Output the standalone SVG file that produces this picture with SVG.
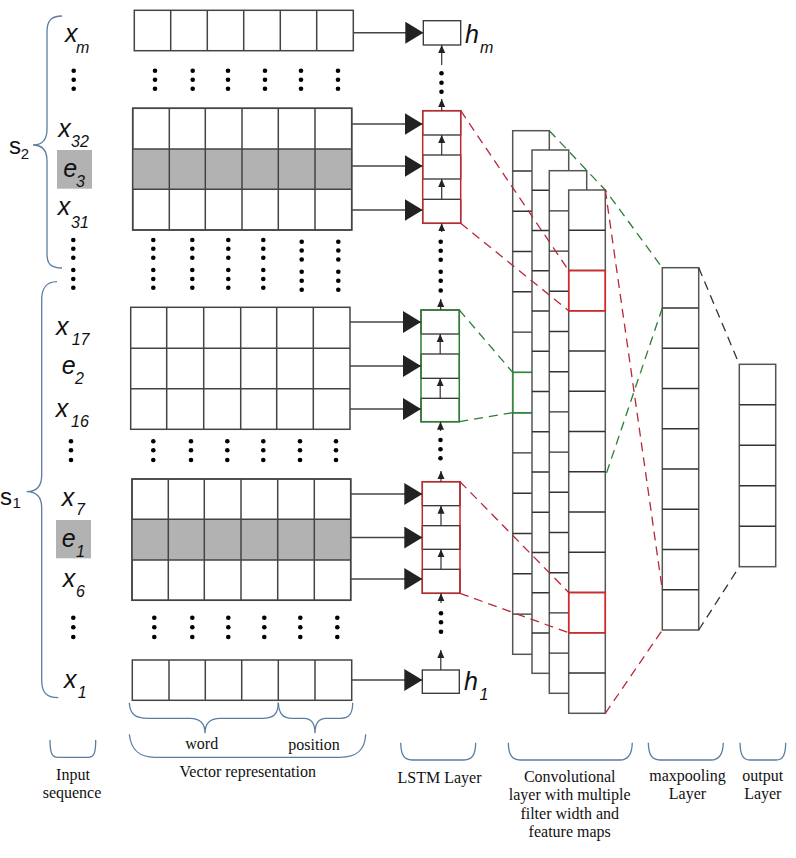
<svg xmlns="http://www.w3.org/2000/svg" width="796" height="858" viewBox="0 0 796 858">
<style>
.bg{fill:#fff}
.cell{fill:#fff;stroke:#444;stroke-width:1.5}
.grayrow{fill:#b2b2b2;stroke:none}
.grid{fill:none;stroke:#444;stroke-width:1.5}
.dot{fill:#000}
.conn{fill:none;stroke:#444;stroke-width:1.5;marker-end:url(#big)}
.up{fill:none;stroke:#333;stroke-width:1.2;marker-end:url(#sm)}
.lcell{fill:#fff;stroke:#333;stroke-width:1.3}
.redbox{fill:none;stroke:#c0282d;stroke-width:1.5}
.greenbox{fill:none;stroke:#2e7d32;stroke-width:1.5}
.map{fill:#fff;stroke:#555;stroke-width:1.5}
.mline{fill:none;stroke:#333;stroke-width:1.4}
.redcell{fill:none;stroke:#e02424;stroke-width:1.5}
.greencell{fill:none;stroke:#2e8b3a;stroke-width:1.5}
.dr{fill:none;stroke:#b8283a;stroke-width:1.3;stroke-dasharray:9 6}
.dg{fill:none;stroke:#2e7d32;stroke-width:1.3;stroke-dasharray:9 6}
.dk{fill:none;stroke:#333;stroke-width:1.3;stroke-dasharray:9 6}
.brace{fill:none;stroke:#5b7ea0;stroke-width:1.3}
.lbl{font-family:"Liberation Serif","Times New Roman",serif;font-size:16px;fill:#111;text-anchor:middle}
.it{font-family:"Liberation Sans",Arial,sans-serif;font-style:italic;fill:#111;font-size:25px}
.sub{font-family:"Liberation Sans",Arial,sans-serif;font-style:italic;fill:#111;font-size:16px}
.s{font-family:"Liberation Sans",Arial,sans-serif;fill:#111;font-size:24px}
.ssub{font-family:"Liberation Sans",Arial,sans-serif;fill:#111;font-size:15px}
.hl{font-family:"Liberation Sans",Arial,sans-serif;font-style:italic;fill:#111;font-size:25px}
.egray{fill:#b2b2b2}
</style>
<defs>
<marker id="big" markerUnits="userSpaceOnUse" viewBox="0 0 18 22" markerWidth="18" markerHeight="22" refX="18" refY="11" orient="auto"><path d="M0,0 L18,11 L0,22 z" fill="#222"/></marker>
<marker id="sm" markerUnits="userSpaceOnUse" viewBox="0 0 8 8" markerWidth="8" markerHeight="8" refX="8" refY="4" orient="auto"><path d="M0,0.5 L8,4 L0,7.5 z" fill="#222"/></marker>
</defs>
<rect class="bg" x="0" y="0" width="796" height="858"/>

<!-- Input sequence labels -->
<g id="input-labels">
<text class="it" x="65" y="41.7">x</text><text class="sub" x="76" y="53.3">m</text>
<circle class="dot" cx="73.7" cy="70.7" r="2.3"/><circle class="dot" cx="73.7" cy="79.7" r="2.3"/><circle class="dot" cx="73.7" cy="88.7" r="2.3"/>
<text class="it" x="58.3" y="136.7">x</text><text class="sub" x="71" y="146.7">32</text>
<rect class="egray" x="57" y="150" width="35" height="38.7"/>
<text class="it" x="63.3" y="176.7">e</text><text class="sub" x="76" y="186.7">3</text>
<text class="it" x="57.7" y="215">x</text><text class="sub" x="71" y="227.7">31</text>
<circle class="dot" cx="73.3" cy="240" r="2.3"/><circle class="dot" cx="73.3" cy="248.7" r="2.3"/><circle class="dot" cx="73.3" cy="257.7" r="2.3"/>
<circle class="dot" cx="73.3" cy="270" r="2.3"/><circle class="dot" cx="73.3" cy="279" r="2.3"/><circle class="dot" cx="73.3" cy="287.7" r="2.3"/>
<text class="it" x="56" y="335">x</text><text class="sub" x="71.7" y="345">17</text>
<text class="it" x="61.7" y="374.3">e</text><text class="sub" x="75" y="384.3">2</text>
<text class="it" x="55.7" y="416.7">x</text><text class="sub" x="71" y="426.7">16</text>
<circle class="dot" cx="71" cy="441.3" r="2.3"/><circle class="dot" cx="71" cy="450.3" r="2.3"/><circle class="dot" cx="71" cy="460" r="2.3"/>
<text class="it" x="61.7" y="506">x</text><text class="sub" x="76" y="515">7</text>
<rect class="egray" x="56" y="520" width="35" height="38.3"/>
<text class="it" x="61.7" y="546.7">e</text><text class="sub" x="76" y="556.7">1</text>
<text class="it" x="62.7" y="586.7">x</text><text class="sub" x="76" y="597.3">6</text>
<circle class="dot" cx="73.3" cy="617.7" r="2.3"/><circle class="dot" cx="73.3" cy="627.3" r="2.3"/><circle class="dot" cx="73.3" cy="637" r="2.3"/>
<text class="it" x="64" y="688.3">x</text><text class="sub" x="77.7" y="698.3">1</text>
</g>

<g id="sentence-braces">
<path class="brace" d="M62,16 C51,16 47,21 47,32 L47,129 C47,140 42,145 33,145 C42,145 47,150 47,161 L47,254 C47,264 51,268 62,268"/>
<text class="s" x="9" y="154">s</text><text class="ssub" x="20.7" y="159.3">2</text>
<path class="brace" d="M57,281.7 C46,282 41.7,288 41.7,300 L41.7,475 C41.7,486 37,491.7 26.7,491.7 C37,491.7 41.7,497 41.7,508 L41.7,680 C41.7,692 46,697.7 58.3,697.7"/>
<text class="s" x="0" y="505">s</text><text class="ssub" x="12.5" y="508.3">1</text>
</g>

<!-- Vector representation -->
<g id="vec-xm">
<rect class="cell" x="134.3" y="10.3" width="219" height="40.4"/>
<path class="grid" d="M170.7,10.3V50.7M207.3,10.3V50.7M243.7,10.3V50.7M280.3,10.3V50.7M316.7,10.3V50.7"/>
</g>
<g id="vec-dots-1">
<circle class="dot" cx="155" cy="70.7" r="2.3"/><circle class="dot" cx="155" cy="79.7" r="2.3"/><circle class="dot" cx="155" cy="88.7" r="2.3"/>
<circle class="dot" cx="192.7" cy="70.7" r="2.3"/><circle class="dot" cx="192.7" cy="79.7" r="2.3"/><circle class="dot" cx="192.7" cy="88.7" r="2.3"/>
<circle class="dot" cx="228" cy="70.7" r="2.3"/><circle class="dot" cx="228" cy="79.7" r="2.3"/><circle class="dot" cx="228" cy="88.7" r="2.3"/>
<circle class="dot" cx="265" cy="70.7" r="2.3"/><circle class="dot" cx="265" cy="79.7" r="2.3"/><circle class="dot" cx="265" cy="88.7" r="2.3"/>
<circle class="dot" cx="301" cy="70.7" r="2.3"/><circle class="dot" cx="301" cy="79.7" r="2.3"/><circle class="dot" cx="301" cy="88.7" r="2.3"/>
<circle class="dot" cx="338" cy="70.7" r="2.3"/><circle class="dot" cx="338" cy="79.7" r="2.3"/><circle class="dot" cx="338" cy="88.7" r="2.3"/>
</g>
<g id="vec-x32-e3-x31">
<rect class="cell" x="132.7" y="108.3" width="219" height="121.7"/>
<rect class="grayrow" x="132.7" y="149" width="219" height="40.3"/>
<path class="grid" d="M132.7,108.3H351.7V230H132.7Z M132.7,149H351.7M132.7,189.3H351.7 M169.3,108.3V230M205.3,108.3V230M242,108.3V230M278.3,108.3V230M315,108.3V230"/>
</g>
<g id="vec-dots-2">
<circle class="dot" cx="153.3" cy="240" r="2.3"/><circle class="dot" cx="153.3" cy="248.7" r="2.3"/><circle class="dot" cx="153.3" cy="257.7" r="2.3"/><circle class="dot" cx="153.3" cy="270" r="2.3"/><circle class="dot" cx="153.3" cy="279" r="2.3"/><circle class="dot" cx="153.3" cy="287.7" r="2.3"/>
<circle class="dot" cx="192.3" cy="240" r="2.3"/><circle class="dot" cx="192.3" cy="248.7" r="2.3"/><circle class="dot" cx="192.3" cy="257.7" r="2.3"/><circle class="dot" cx="192.3" cy="270" r="2.3"/><circle class="dot" cx="192.3" cy="279" r="2.3"/><circle class="dot" cx="192.3" cy="287.7" r="2.3"/>
<circle class="dot" cx="228.3" cy="240" r="2.3"/><circle class="dot" cx="228.3" cy="248.7" r="2.3"/><circle class="dot" cx="228.3" cy="257.7" r="2.3"/><circle class="dot" cx="228.3" cy="270" r="2.3"/><circle class="dot" cx="228.3" cy="279" r="2.3"/><circle class="dot" cx="228.3" cy="287.7" r="2.3"/>
<circle class="dot" cx="263.3" cy="240" r="2.3"/><circle class="dot" cx="263.3" cy="248.7" r="2.3"/><circle class="dot" cx="263.3" cy="257.7" r="2.3"/><circle class="dot" cx="263.3" cy="270" r="2.3"/><circle class="dot" cx="263.3" cy="279" r="2.3"/><circle class="dot" cx="263.3" cy="287.7" r="2.3"/>
<circle class="dot" cx="301.7" cy="241.7" r="2.3"/><circle class="dot" cx="301.7" cy="250.5" r="2.3"/><circle class="dot" cx="301.7" cy="259.5" r="2.3"/><circle class="dot" cx="301.7" cy="271.7" r="2.3"/><circle class="dot" cx="301.7" cy="280.7" r="2.3"/><circle class="dot" cx="301.7" cy="289.7" r="2.3"/>
<circle class="dot" cx="338.3" cy="241.7" r="2.3"/><circle class="dot" cx="338.3" cy="250.5" r="2.3"/><circle class="dot" cx="338.3" cy="259.5" r="2.3"/><circle class="dot" cx="338.3" cy="271.7" r="2.3"/><circle class="dot" cx="338.3" cy="280.7" r="2.3"/><circle class="dot" cx="338.3" cy="289.7" r="2.3"/>
</g>
<g id="vec-x17-e2-x16">
<rect class="cell" x="130.7" y="307.3" width="219.3" height="122"/>
<path class="grid" d="M130.7,348.3H350M130.7,388.7H350 M166.7,307.3V429.3M203.7,307.3V429.3M240.7,307.3V429.3M276.7,307.3V429.3M313.3,307.3V429.3"/>
</g>
<g id="vec-dots-3">
<circle class="dot" cx="153.3" cy="441.3" r="2.3"/><circle class="dot" cx="153.3" cy="450.3" r="2.3"/><circle class="dot" cx="153.3" cy="460" r="2.3"/>
<circle class="dot" cx="191" cy="441.3" r="2.3"/><circle class="dot" cx="191" cy="450.3" r="2.3"/><circle class="dot" cx="191" cy="460" r="2.3"/>
<circle class="dot" cx="227.3" cy="441.3" r="2.3"/><circle class="dot" cx="227.3" cy="450.3" r="2.3"/><circle class="dot" cx="227.3" cy="460" r="2.3"/>
<circle class="dot" cx="263.3" cy="441.3" r="2.3"/><circle class="dot" cx="263.3" cy="450.3" r="2.3"/><circle class="dot" cx="263.3" cy="460" r="2.3"/>
<circle class="dot" cx="300" cy="441.3" r="2.3"/><circle class="dot" cx="300" cy="450.3" r="2.3"/><circle class="dot" cx="300" cy="460" r="2.3"/>
<circle class="dot" cx="336" cy="441.3" r="2.3"/><circle class="dot" cx="336" cy="450.3" r="2.3"/><circle class="dot" cx="336" cy="460" r="2.3"/>
</g>
<g id="vec-x7-e1-x6">
<rect class="cell" x="132" y="479" width="218.7" height="121.3"/>
<rect class="grayrow" x="132" y="519.3" width="218.7" height="40.7"/>
<path class="grid" d="M132,479H350.7V600.3H132Z M132,519.3H350.7M132,560H350.7 M168.3,479V600.3M204.3,479V600.3M241,479V600.3M277.7,479V600.3M314.3,479V600.3"/>
</g>
<g id="vec-dots-4">
<circle class="dot" cx="154.3" cy="617.7" r="2.3"/><circle class="dot" cx="154.3" cy="627.3" r="2.3"/><circle class="dot" cx="154.3" cy="637" r="2.3"/>
<circle class="dot" cx="192.3" cy="617.7" r="2.3"/><circle class="dot" cx="192.3" cy="627.3" r="2.3"/><circle class="dot" cx="192.3" cy="637" r="2.3"/>
<circle class="dot" cx="228.3" cy="617.7" r="2.3"/><circle class="dot" cx="228.3" cy="627.3" r="2.3"/><circle class="dot" cx="228.3" cy="637" r="2.3"/>
<circle class="dot" cx="264.3" cy="617.7" r="2.3"/><circle class="dot" cx="264.3" cy="627.3" r="2.3"/><circle class="dot" cx="264.3" cy="637" r="2.3"/>
<circle class="dot" cx="300.3" cy="617.7" r="2.3"/><circle class="dot" cx="300.3" cy="627.3" r="2.3"/><circle class="dot" cx="300.3" cy="637" r="2.3"/>
<circle class="dot" cx="337.3" cy="617.7" r="2.3"/><circle class="dot" cx="337.3" cy="627.3" r="2.3"/><circle class="dot" cx="337.3" cy="637" r="2.3"/>
</g>
<g id="vec-x1">
<rect class="cell" x="132.3" y="660" width="219.4" height="40.3"/>
<path class="grid" d="M169,660V700.3M205.3,660V700.3M241.7,660V700.3M278.3,660V700.3M315,660V700.3"/>
</g>

<!-- LSTM layer -->
<g id="lstm-hm">
<rect class="lcell" x="423.3" y="20.7" width="37.4" height="24.3"/>
<text class="hl" x="465" y="43.3">h</text><text class="sub" x="480" y="53.3">m</text>
</g>
<g id="lstm-red-1">
<rect class="lcell" x="422.7" y="110.7" width="38" height="24.3"/>
<rect class="lcell" x="422.7" y="155" width="38" height="24"/>
<rect class="lcell" x="422.7" y="199.3" width="38" height="24"/>
<rect class="redbox" x="422.7" y="110.7" width="38" height="112.6"/>
</g>
<g id="lstm-green">
<rect class="lcell" x="421" y="310" width="38.3" height="24"/>
<rect class="lcell" x="421" y="354" width="38.3" height="24.3"/>
<rect class="lcell" x="421" y="398.3" width="38.3" height="23.4"/>
<rect class="greenbox" x="421" y="310" width="38.3" height="111.7"/>
</g>
<g id="lstm-red-2">
<rect class="lcell" x="422.3" y="481.7" width="37.7" height="24"/>
<rect class="lcell" x="422.3" y="525.7" width="37.7" height="23.6"/>
<rect class="lcell" x="422.3" y="569.3" width="37.7" height="24"/>
<rect class="redbox" x="422.3" y="481.7" width="37.7" height="111.6"/>
</g>
<g id="lstm-h1">
<rect class="lcell" x="422.3" y="670" width="37" height="23.3"/>
<text class="hl" x="464" y="690">h</text><text class="sub" x="479.5" y="700">1</text>
</g>
<g id="lstm-dots">
<circle class="dot" cx="441.5" cy="73.3" r="2.3"/><circle class="dot" cx="441.5" cy="82.7" r="2.3"/><circle class="dot" cx="441.5" cy="91.7" r="2.3"/>
<circle class="dot" cx="440.7" cy="241.7" r="2.3"/><circle class="dot" cx="440.7" cy="250.7" r="2.3"/><circle class="dot" cx="440.7" cy="259.7" r="2.3"/><circle class="dot" cx="440.7" cy="271.7" r="2.3"/><circle class="dot" cx="440.7" cy="280.7" r="2.3"/><circle class="dot" cx="440.7" cy="290.5" r="2.3"/>
<circle class="dot" cx="440.5" cy="440" r="2.3"/><circle class="dot" cx="440.5" cy="449.3" r="2.3"/><circle class="dot" cx="440.5" cy="458.3" r="2.3"/>
<circle class="dot" cx="441" cy="613.3" r="2.3"/><circle class="dot" cx="441" cy="622.3" r="2.3"/><circle class="dot" cx="441" cy="631.7" r="2.3"/>
</g>

<!-- Convolutional layer -->
<g id="conv-map-1">
<rect class="map" x="512.7" y="130.7" width="36.6" height="523.6"/>
<path class="mline" d="M512.7,171H549.3M512.7,211.3H549.3M512.7,251.5H549.3M512.7,291.8H549.3M512.7,332.1H549.3M512.7,372.4H549.3M512.7,412.7H549.3M512.7,452.9H549.3M512.7,493.2H549.3M512.7,533.5H549.3M512.7,573.8H549.3M512.7,614.1H549.3"/>
<rect class="greencell" x="512.7" y="372.4" width="36.6" height="40.3"/>
</g>
<g id="conv-map-2">
<rect class="map" x="532" y="150" width="36.7" height="523.3"/>
<path class="mline" d="M532,190.25H568.7M532,230.5H568.7M532,270.75H568.7M532,311H568.7M532,351.25H568.7M532,391.5H568.7M532,431.75H568.7M532,472H568.7M532,512.25H568.7M532,552.5H568.7M532,592.75H568.7M532,633H568.7"/>
</g>
<g id="conv-map-3">
<rect class="map" x="549.3" y="170.7" width="37.4" height="522.6"/>
<path class="mline" d="M549.3,210.9H586.7M549.3,251.1H586.7M549.3,291.3H586.7M549.3,331.5H586.7M549.3,371.7H586.7M549.3,411.9H586.7M549.3,452.1H586.7M549.3,492.3H586.7M549.3,532.5H586.7M549.3,572.7H586.7M549.3,612.9H586.7M549.3,653.1H586.7"/>
</g>
<g id="conv-map-4">
<rect class="map" x="568.7" y="190" width="36.6" height="523.3"/>
<path class="mline" d="M568.7,230.25H605.3M568.7,270.5H605.3M568.7,310.75H605.3M568.7,351H605.3M568.7,391.25H605.3M568.7,431.5H605.3M568.7,471.75H605.3M568.7,512H605.3M568.7,552.25H605.3M568.7,592.5H605.3M568.7,632.75H605.3M568.7,673H605.3"/>
<rect class="redcell" x="568.7" y="270.5" width="36.6" height="40.25"/>
<rect class="redcell" x="568.7" y="592.5" width="36.6" height="40.25"/>
</g>

<!-- Maxpooling layer -->
<g id="maxpool">
<rect class="map" x="662.3" y="267.7" width="36.4" height="362.3"/>
<path class="mline" d="M662.3,308H698.7M662.3,348.2H698.7M662.3,388.5H698.7M662.3,428.7H698.7M662.3,469H698.7M662.3,509.3H698.7M662.3,549.5H698.7M662.3,589.8H698.7"/>
</g>

<!-- Output layer -->
<g id="output">
<rect class="map" x="739.3" y="364.3" width="36.4" height="202.4"/>
<path class="mline" d="M739.3,404.8H775.7M739.3,445.2H775.7M739.3,485.7H775.7M739.3,526.2H775.7"/>
</g>

<!-- Connectors -->
<g id="connectors">
<line class="conn" x1="353.3" y1="32.7" x2="423.3" y2="32.7"/>
<line class="conn" x1="351.7" y1="124" x2="422.7" y2="124"/>
<line class="conn" x1="351.7" y1="166" x2="422.7" y2="166"/>
<line class="conn" x1="351.7" y1="210" x2="422.7" y2="210"/>
<line class="conn" x1="350" y1="322" x2="421" y2="322"/>
<line class="conn" x1="350" y1="366" x2="421" y2="366"/>
<line class="conn" x1="350" y1="409" x2="421" y2="409"/>
<line class="conn" x1="350.7" y1="494" x2="422.3" y2="494"/>
<line class="conn" x1="350.7" y1="537.5" x2="422.3" y2="537.5"/>
<line class="conn" x1="350.7" y1="579" x2="422.3" y2="579"/>
<line class="conn" x1="351.7" y1="680" x2="422.3" y2="680"/>

<line class="up" x1="441.7" y1="65" x2="441.7" y2="45"/>
<line class="up" x1="441.7" y1="110.7" x2="441.7" y2="99"/>
<line class="up" x1="441.7" y1="155" x2="441.7" y2="135"/>
<line class="up" x1="441.7" y1="199.3" x2="441.7" y2="179"/>
<line class="up" x1="441.7" y1="232" x2="441.7" y2="223.3"/>
<line class="up" x1="440.7" y1="310" x2="440.7" y2="299"/>
<line class="up" x1="440.2" y1="354" x2="440.2" y2="334"/>
<line class="up" x1="440.2" y1="398.3" x2="440.2" y2="378.3"/>
<line class="up" x1="440.5" y1="431" x2="440.5" y2="421.7"/>
<line class="up" x1="441" y1="481.7" x2="441" y2="471"/>
<line class="up" x1="441" y1="525.7" x2="441" y2="505.7"/>
<line class="up" x1="441" y1="569.3" x2="441" y2="549.3"/>
<line class="up" x1="441" y1="603" x2="441" y2="593.3"/>
<line class="up" x1="440.8" y1="670" x2="440.8" y2="650"/>

<line class="dr" x1="460.7" y1="110.7" x2="568.7" y2="270.5"/>
<line class="dr" x1="460.7" y1="223.3" x2="568.7" y2="310.75"/>
<line class="dr" x1="460" y1="481.7" x2="568.7" y2="592.5"/>
<line class="dr" x1="460" y1="593.3" x2="568.7" y2="632.75"/>
<line class="dg" x1="459.3" y1="310" x2="512.7" y2="372.4"/>
<line class="dg" x1="459.3" y1="421.7" x2="512.7" y2="412.7"/>
<path class="dg" d="M549.3,130.7 L605.3,190 L662.3,267.7"/>
<line class="dg" x1="662.3" y1="308" x2="605.3" y2="476.7"/>
<line class="dr" x1="605.3" y1="190" x2="662.3" y2="589.8"/>
<line class="dr" x1="605.3" y1="713.3" x2="662.3" y2="630"/>
<line class="dk" x1="698.7" y1="267.7" x2="739.3" y2="364.3"/>
<line class="dk" x1="698.7" y1="630" x2="739.3" y2="566.7"/>
</g>

<!-- Bottom braces and labels -->
<g id="label-input">
<path class="brace" d="M50,740 C50,752 51.5,757.3 58,757.3 L88,757.3 C94.5,757.3 95.7,752 95.7,740"/>
<text class="lbl" x="73" y="780">Input</text>
<text class="lbl" x="72" y="797.7">sequence</text>
</g>
<g id="label-vector">
<path class="brace" d="M129.3,702.7 C130,714 135,718.3 148,718.3 L190,718.3 C200,718.3 205,723 205,733.3 C205,723 210,718.3 220,718.3 L262,718.3 C274,718.3 278,714 278.3,702.7"/>
<path class="brace" d="M278.3,702.7 C279,714 283,718.3 292,718.3 L304,718.3 C311,718.3 315,723 315,733.3 C315,723 319,718.3 326,718.3 L341,718.3 C349,718.3 352.7,714 352.7,702.7"/>
<text class="lbl" x="201.7" y="749">word</text>
<text class="lbl" x="314" y="750.3">position</text>
<path class="brace" d="M129.3,734.3 C131,750 139,757.3 155,757.3 L340,757.3 C357,757.3 365,750 365.7,734.3"/>
<text class="lbl" x="247.7" y="777.3">Vector representation</text>
</g>
<g id="label-lstm">
<path class="brace" d="M400.7,742.7 C401,755 404,760 412,760 L464,760 C472,760 475.5,755 475.7,742.7"/>
<text class="lbl" x="439.5" y="783.3">LSTM Layer</text>
</g>
<g id="label-conv">
<path class="brace" d="M508.3,742.7 C508.6,755 512,760 520,760 L620,760 C628,760 632,755 632.3,742.7"/>
<text class="lbl" x="569.7" y="781.7">Convolutional</text>
<text class="lbl" x="569.7" y="800.2">layer with multiple</text>
<text class="lbl" x="569.7" y="818.7">filter width and</text>
<text class="lbl" x="569.7" y="837.2">feature maps</text>
</g>
<g id="label-maxpool">
<path class="brace" d="M648.3,742.7 C648.6,755 652,760 660,760 L711,760 C719,760 723,755 723.3,742.7"/>
<text class="lbl" x="687.5" y="781">maxpooling</text>
<text class="lbl" x="687.5" y="798.5">Layer</text>
</g>
<g id="label-output">
<path class="brace" d="M740,742.7 C740.3,755 743,760 750,760 L776,760 C783,760 785.5,755 785.7,742.7"/>
<text class="lbl" x="762.8" y="781">output</text>
<text class="lbl" x="762.8" y="798.5">Layer</text>
</g>
</svg>
